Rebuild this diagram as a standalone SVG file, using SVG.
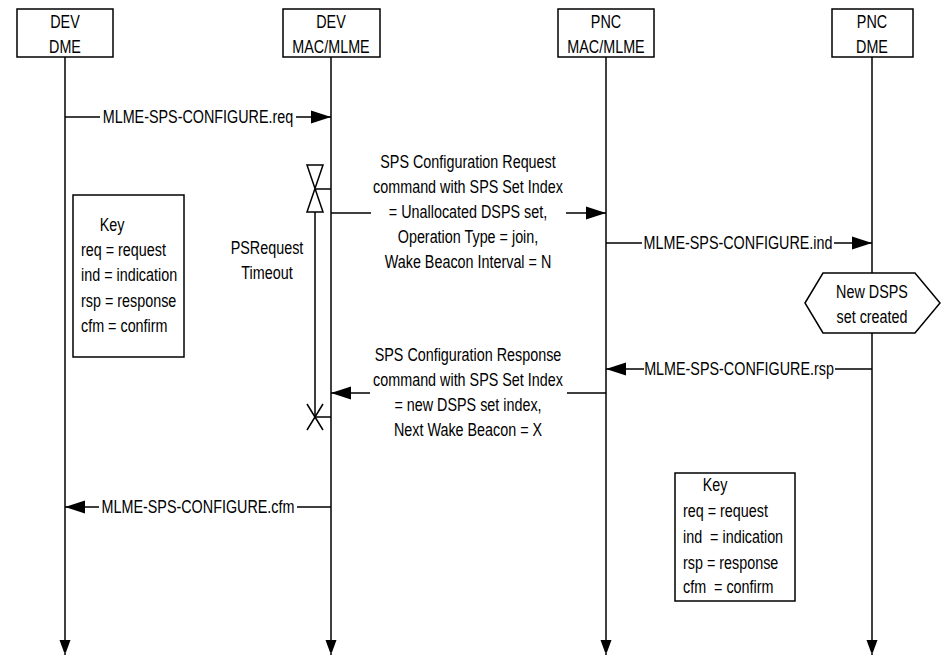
<svg xmlns="http://www.w3.org/2000/svg" width="949" height="656" viewBox="0 0 949 656">
<defs>
<style>
text{font-family:"Liberation Sans",Arial,sans-serif;font-size:17.5px;fill:#000;white-space:pre}
.c{text-anchor:middle}
.box{fill:#fff;stroke:#000;stroke-width:1.5}
.ln{fill:none;stroke:#000;stroke-width:1.5}
</style>
<marker id="ah" markerUnits="userSpaceOnUse" markerWidth="20" markerHeight="14" refX="20" refY="7" orient="auto">
<path d="M0,0.5 L20,7 L0,13.5 z" fill="#000"/>
</marker>
<marker id="lh" markerUnits="userSpaceOnUse" markerWidth="12" markerHeight="16" refX="15" refY="6" orient="auto">
<path d="M0,0.5 L15,6 L0,11.5 z" fill="#000"/>
</marker>
</defs>
<rect width="949" height="656" fill="#fff"/>

<g id="lifelines">
<path class="ln" d="M65,57 V655" marker-end="url(#lh)"/>
<path class="ln" d="M331,57 V655" marker-end="url(#lh)"/>
<path class="ln" d="M606,57 V655" marker-end="url(#lh)"/>
<path class="ln" d="M872,57 V655" marker-end="url(#lh)"/>
</g>

<g id="dev-dme">
<rect class="box" x="17" y="9" width="96" height="48"/>
<text class="c" transform="translate(65,28) scale(0.82,1)">DEV</text>
<text class="c" transform="translate(65,53) scale(0.82,1)">DME</text>
</g>
<g id="dev-mac">
<rect class="box" x="283" y="9" width="97" height="48"/>
<text class="c" transform="translate(331,28) scale(0.82,1)">DEV</text>
<text class="c" transform="translate(331,53) scale(0.82,1)">MAC/MLME</text>
</g>
<g id="pnc-mac">
<rect class="box" x="558" y="9" width="96" height="48"/>
<text class="c" transform="translate(606,28) scale(0.82,1)">PNC</text>
<text class="c" transform="translate(606,53) scale(0.82,1)">MAC/MLME</text>
</g>
<g id="pnc-dme">
<rect class="box" x="832" y="9" width="81" height="48"/>
<text class="c" transform="translate(872,28) scale(0.82,1)">PNC</text>
<text class="c" transform="translate(872,53) scale(0.82,1)">DME</text>
</g>

<g id="timer">
<path class="ln" d="M307,165 H323 L307,212 H323 Z"/>
<path class="ln" d="M315,189 H331"/>
<path class="ln" d="M315,212 V417 H331"/>
<path class="ln" d="M307,404 L323,430 M323,404 L307,430"/>
<text class="c" transform="translate(267,254) scale(0.82,1)">PSRequest</text>
<text class="c" transform="translate(267,279) scale(0.82,1)">Timeout</text>
</g>

<g id="key-left">
<rect class="box" x="73" y="195" width="111" height="162"/>
<text class="c" transform="translate(112,231) scale(0.82,1)">Key</text>
<text transform="translate(81,256) scale(0.82,1)">req = request</text>
<text transform="translate(81,281) scale(0.82,1)">ind = indication</text>
<text transform="translate(81,307) scale(0.82,1)">rsp = response</text>
<text transform="translate(81,332) scale(0.82,1)">cfm = confirm</text>
</g>

<g id="new-dsps">
<polygon class="box" points="805,303 823,273 915,273 940,303 915,333 823,333"/>
<text class="c" transform="translate(872,298) scale(0.82,1)">New DSPS</text>
<text class="c" transform="translate(872,323) scale(0.82,1)">set created</text>
</g>

<g id="key-right">
<rect class="box" x="675" y="473" width="120" height="128"/>
<text class="c" transform="translate(715,491) scale(0.82,1)">Key</text>
<text transform="translate(683,517) scale(0.82,1)">req = request</text>
<text transform="translate(683,543) scale(0.82,1)">ind  = indication</text>
<text transform="translate(683,569) scale(0.82,1)">rsp = response</text>
<text transform="translate(683,593) scale(0.82,1)">cfm  = confirm</text>
</g>

<g id="connectors">
<path class="ln" d="M65,117 H100 M296,117 H331" marker-end="url(#ah)"/>
<text class="c" transform="translate(198,123) scale(0.82,1)">MLME-SPS-CONFIGURE.req</text>

<path class="ln" d="M331,213 H371 M566,213 H606" marker-end="url(#ah)"/>
<text class="c" transform="translate(468,168) scale(0.82,1)">SPS Configuration Request</text>
<text class="c" transform="translate(468,193) scale(0.82,1)">command with SPS Set Index</text>
<text class="c" transform="translate(468,218) scale(0.82,1)">= Unallocated DSPS set,</text>
<text class="c" transform="translate(468,243) scale(0.82,1)">Operation Type = join,</text>
<text class="c" transform="translate(468,268) scale(0.82,1)">Wake Beacon Interval = N</text>

<path class="ln" d="M606,243 H642 M834,243 H872" marker-end="url(#ah)"/>
<text class="c" transform="translate(738,249) scale(0.82,1)">MLME-SPS-CONFIGURE.ind</text>

<path class="ln" d="M872,369 H835 M644,369 H606" marker-end="url(#ah)"/>
<text class="c" transform="translate(739,375) scale(0.82,1)">MLME-SPS-CONFIGURE.rsp</text>

<path class="ln" d="M606,393 H567 M370,393 H331" marker-end="url(#ah)"/>
<text class="c" transform="translate(468,361) scale(0.82,1)">SPS Configuration Response</text>
<text class="c" transform="translate(468,386) scale(0.82,1)">command with SPS Set Index</text>
<text class="c" transform="translate(468,411) scale(0.82,1)">= new DSPS set index,</text>
<text class="c" transform="translate(468,436) scale(0.82,1)">Next Wake Beacon = X</text>

<path class="ln" d="M331,507 H297 M99,507 H65" marker-end="url(#ah)"/>
<text class="c" transform="translate(198,513) scale(0.82,1)">MLME-SPS-CONFIGURE.cfm</text>
</g>
</svg>
